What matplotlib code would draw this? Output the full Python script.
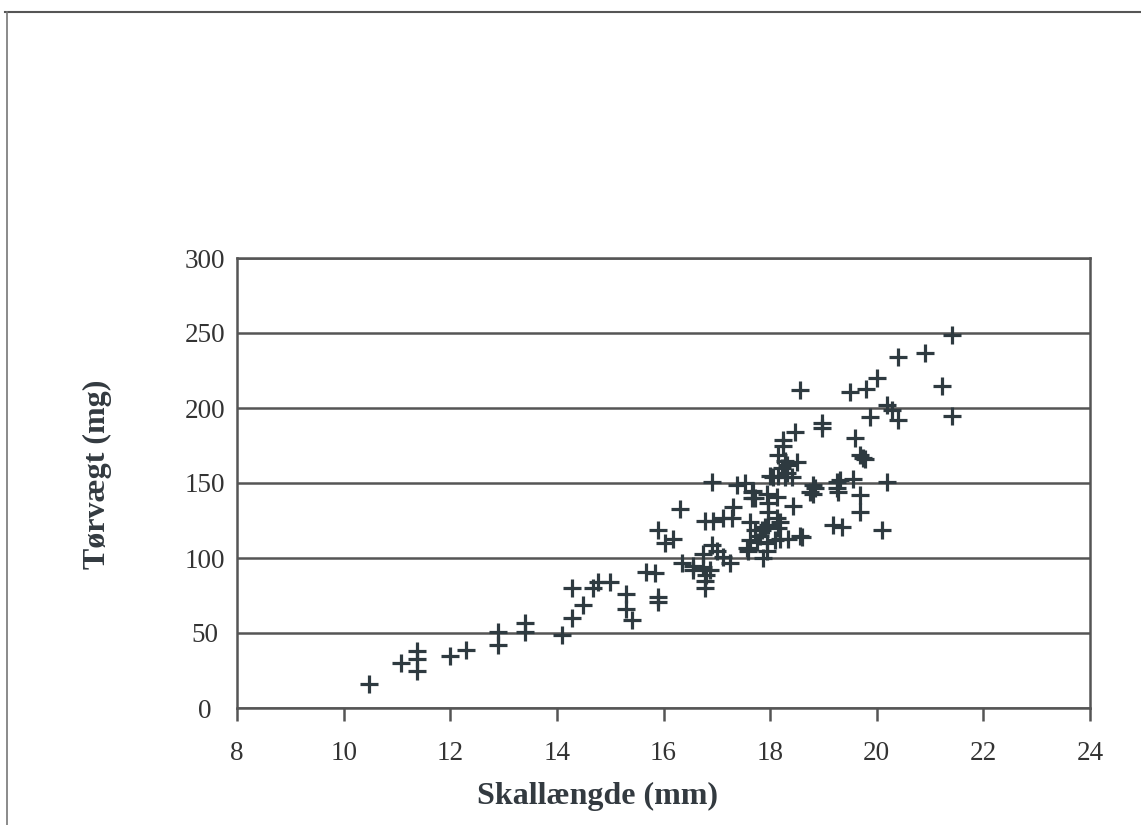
import matplotlib
matplotlib.use("Agg")
import matplotlib.pyplot as plt
from matplotlib.lines import Line2D

# Shell length (mm) and dry weight (mg)
shell_length = [
    10.48, 11.08, 11.38, 11.38, 11.38, 12.0, 12.3, 12.9, 12.9, 13.4, 13.4,
    14.1, 14.28, 14.49, 14.28, 14.68, 14.77, 15.0, 15.3, 15.3, 15.4,
    15.67, 15.84, 15.9, 15.9, 15.9, 16.03, 16.18, 16.31,
    16.35, 16.55, 16.74, 16.55, 16.87, 16.78, 16.78, 16.74, 16.91, 17.0,
    17.12, 17.25, 16.8,
    16.78, 16.93, 17.12, 17.29, 17.62, 17.9, 18.19, 18.15, 17.85, 18.56, 17.3,
    16.91, 17.53, 17.38, 18.0, 18.32, 18.32, 18.41, 18.15, 18.06, 18.28,
    18.84, 18.75, 18.8, 18.8,
    17.66, 17.66, 17.94, 18.13, 17.96, 18.43, 17.96, 17.68, 17.72,
    17.57, 17.75, 17.94, 17.59, 17.94, 17.87, 18.1, 18.34, 18.6, 18.19,
    17.62, 17.81, 17.72, 17.96, 18.13,
    18.56, 19.5, 19.8, 20.0, 20.4, 20.9, 21.41, 21.22,
    18.97, 18.97, 18.47, 18.25, 18.25, 18.15, 18.28, 18.5, 18.22,
    19.6, 19.75, 19.69, 19.78,
    20.19, 19.88, 20.29, 20.4, 21.41,
    19.25, 19.31, 19.56, 20.19,
    19.25, 19.27, 19.69, 19.69,
    19.18, 19.35, 20.1,
]
dry_weight = [
    16, 30, 38, 33, 25, 35, 39, 51, 42, 57, 51,
    49, 60, 69, 80, 80, 84, 84, 76, 66, 59,
    91, 90, 74, 71, 119, 110, 113, 133,
    97, 95, 94, 92, 92, 85, 80, 103, 109, 105,
    101, 97, 89,
    125, 125, 127, 127, 124, 121, 124, 120, 119, 115, 134,
    151, 150, 149, 155, 162, 157, 154, 155, 154, 154,
    147, 144, 149, 143,
    144, 140, 143, 141, 137, 135, 131, 145, 140,
    107, 111, 110, 105, 105, 100, 112, 113, 114, 113,
    112, 115, 119, 122, 127,
    212, 211, 213, 220, 234, 237, 249, 215,
    190, 187, 184, 179, 175, 169, 165, 164, 160,
    180, 167, 169, 166,
    202, 194, 199, 192, 195,
    151, 152, 153, 151,
    147, 144, 142, 131,
    122, 121, 119,
]

x_ticks = [8, 10, 12, 14, 16, 18, 20, 22, 24]
y_ticks = [0, 50, 100, 150, 200, 250, 300]
x_label = "Skallængde (mm)"
y_label = "Tørvægt (mg)"

ink = "#2e3a40"
grid_col = "#555555"

fig = plt.figure(figsize=(11.41, 8.25), dpi=100)
fig.patch.set_facecolor("white")
ax = fig.add_axes([237 / 1141, 1 - 708 / 825, (1090 - 237) / 1141, (708 - 258) / 825])

for y in y_ticks:
    ax.axhline(y, color=grid_col, lw=1.8, zorder=1)

ax.plot(shell_length, dry_weight, linestyle="none", marker="+",
        markersize=13.5, markeredgewidth=2.3, color=ink, zorder=3)

ax.set_xlim(8, 24)
ax.set_ylim(0, 300)
ax.set_xticks(x_ticks)
ax.set_yticks(y_ticks)

for s in ax.spines.values():
    s.set_color(grid_col)
    s.set_linewidth(1.8)

tick_font = dict(family="Liberation Serif", size=19.5)
ax.set_xticklabels([str(v) for v in x_ticks], fontdict=tick_font, color="#333333")
ax.set_yticklabels([str(v) for v in y_ticks], fontdict=tick_font, color="#333333",
                   ha="center")
ax.tick_params(axis="x", direction="out", length=9, width=1.8, color=grid_col, pad=15)
ax.tick_params(axis="y", length=0, pad=23)

ax.set_xlabel(x_label, family="Liberation Serif", fontweight="bold", fontsize=23,
              color="#333a40", va="top")
ax.xaxis.set_label_coords(0.423, -0.165)
ax.set_ylabel(y_label, family="Liberation Serif", fontweight="bold", fontsize=23,
              color="#333a40")
ax.yaxis.set_label_coords(-0.1465, 0.52)

# outer frame lines (top and left) of the scanned figure
fig.add_artist(Line2D([5 / 1141, 1.0], [1 - 12 / 825, 1 - 12 / 825],
                      transform=fig.transFigure, color="#555555", lw=1.5))
fig.add_artist(Line2D([7 / 1141, 7 / 1141], [0, 1 - 12 / 825],
                      transform=fig.transFigure, color="#777777", lw=1.2))

fig.savefig("out.png", dpi=100, facecolor="white")
